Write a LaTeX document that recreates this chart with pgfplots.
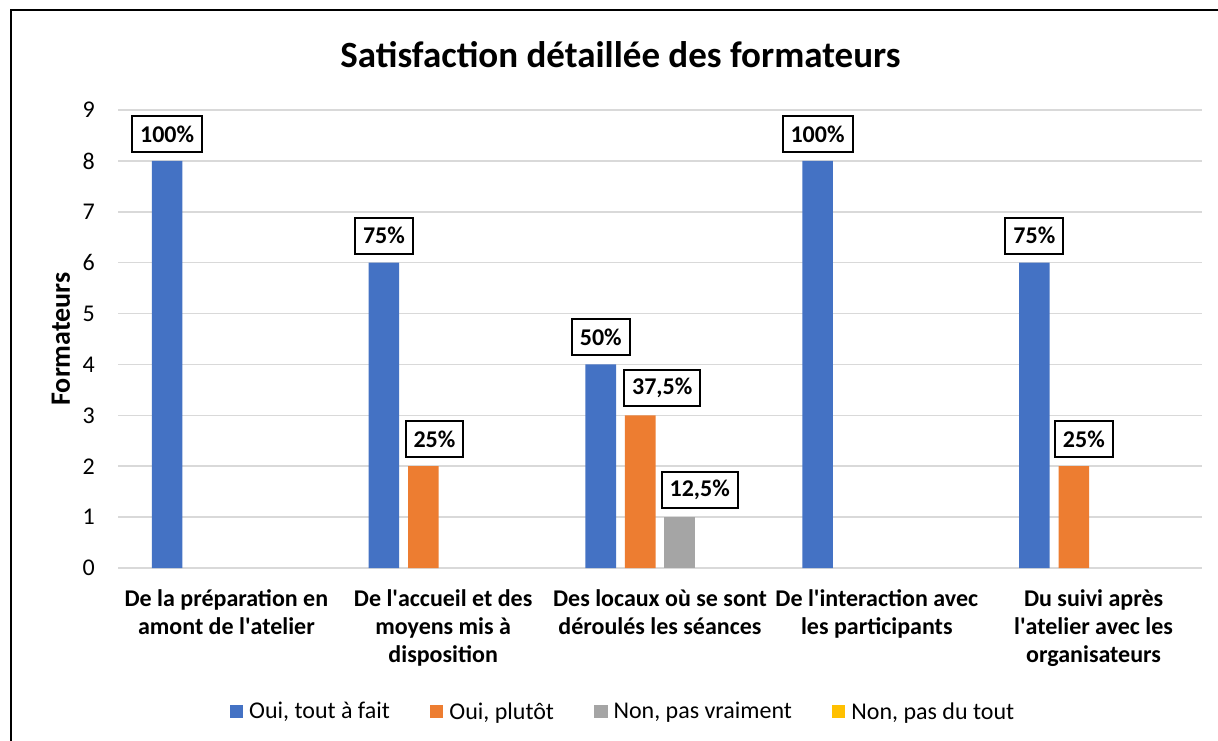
\documentclass[border=0pt]{standalone}
\usepackage{pgfplots}
\usepackage{pgfplotstable}
\pgfplotsset{compat=1.18}
\usepackage{fontspec}
\setmainfont{Carlito}
\definecolor{cblue}{HTML}{4472C4}
\definecolor{corange}{HTML}{ED7D31}
\definecolor{cgray}{HTML}{A5A5A5}
\definecolor{cyellow}{HTML}{FFC000}
\definecolor{cgrid}{HTML}{D9D9D9}
\newcommand{\q}{\textquotesingle}

\pgfplotstableread{
x y lab dx
0 8 100 0
1 6 75 0
2 4 50 0
3 8 100 0
4 6 75 0
}\tblue
\pgfplotstableread{
x y lab dx
1 2 25 11
2 3 37,5 22
4 2 25 10
}\torange
\pgfplotstableread{
x y lab dx
2 1 12,5 20
}\tgray

\begin{document}
\begin{tikzpicture}
\path[use as bounding box] (0pt,0pt) rectangle (1218pt,740pt);
\fill[white] (0pt,0pt) rectangle (1218pt,740pt);
\draw[line width=2pt, black] (10.5pt,-5pt) -- (10.5pt,729.5pt) -- (1225pt,729.5pt);
\node[anchor=base, font=\fontsize{37}{44}\selectfont\bfseries] at (620.5pt,672pt) {Satisfaction détaillée des formateurs};
\begin{axis}[
  at={(118pt,172pt)}, anchor=south west,
  scale only axis, width=1084pt, height=458pt,
  xmin=-0.5, xmax=4.5, ymin=0, ymax=9,
  ybar, bar width=0.1407,
  axis line style={draw=none},
  major tick length=0pt,
  ymajorgrids, grid style={color=cgrid, line width=1.5pt},
  ytick={0,1,2,3,4,5,6,7,8,9},
  xtick={0,1,2,3,4},
  xticklabels={{De la préparation en\\amont de l\q atelier},{De l\q accueil et des\\moyens mis à\\disposition},{Des locaux où se sont\\déroulés les séances},{De l\q interaction avec\\les participants},{Du suivi après\\l\q atelier avec les\\organisateurs}},
  /pgf/number format/assume math mode=true,
  yticklabel style={font=\fontsize{24}{28}\selectfont, inner sep=0pt, anchor=east, xshift=-23pt},
  xticklabel style={font=\fontsize{24}{28.3}\selectfont\bfseries, align=center, inner sep=0pt, anchor=north, yshift=-21pt},
  ylabel={Formateurs},
  every axis y label/.style={at={(axis description cs:-0.0526,0.5)}, rotate=90, anchor=center, font=\fontsize{28}{32}\selectfont\bfseries},
  legend style={at={(axis description cs:0.4649,-0.3133)}, anchor=center, draw=none, fill=none, legend columns=4,
    font=\fontsize{24}{28}\selectfont, nodes={inner sep=0pt},
    /tikz/every odd column/.append style={column sep=6pt},
    /tikz/every even column/.append style={column sep=40pt}},
  legend image code/.code={\fill[#1] (0pt,-6.75pt) rectangle (13.5pt,6.75pt);},
  nodes near coords={\pgfplotspointmeta\%},
  point meta=explicit symbolic,
  every node near coord/.append style={anchor=south, yshift=8pt, draw=black, line width=2pt, fill=white, inner xsep=8pt, inner ysep=0pt, minimum height=36pt, font=\fontsize{24}{28}\selectfont\bfseries, text=black},
]
\addplot[fill=cblue, draw=none, bar shift=-0.2733,
  visualization depends on={\thisrow{dx} \as \dx},
  every node near coord/.append style={xshift=\dx pt}] table[x=x, y=y, meta=lab] {\tblue};
\addlegendentry{Oui, tout à fait}
\addplot[fill=corange, draw=none, bar shift=-0.0911,
  visualization depends on={\thisrow{dx} \as \dx},
  every node near coord/.append style={xshift=\dx pt}] table[x=x, y=y, meta=lab] {\torange};
\addlegendentry{Oui, plutôt}
\addplot[fill=cgray, draw=none, bar shift=0.0911,
  visualization depends on={\thisrow{dx} \as \dx},
  every node near coord/.append style={xshift=\dx pt}] table[x=x, y=y, meta=lab] {\tgray};
\addlegendentry{Non, pas vraiment}
\addlegendimage{fill=cyellow, draw=none}
\addlegendentry{Non, pas du tout}
\end{axis}
\end{tikzpicture}
\end{document}
